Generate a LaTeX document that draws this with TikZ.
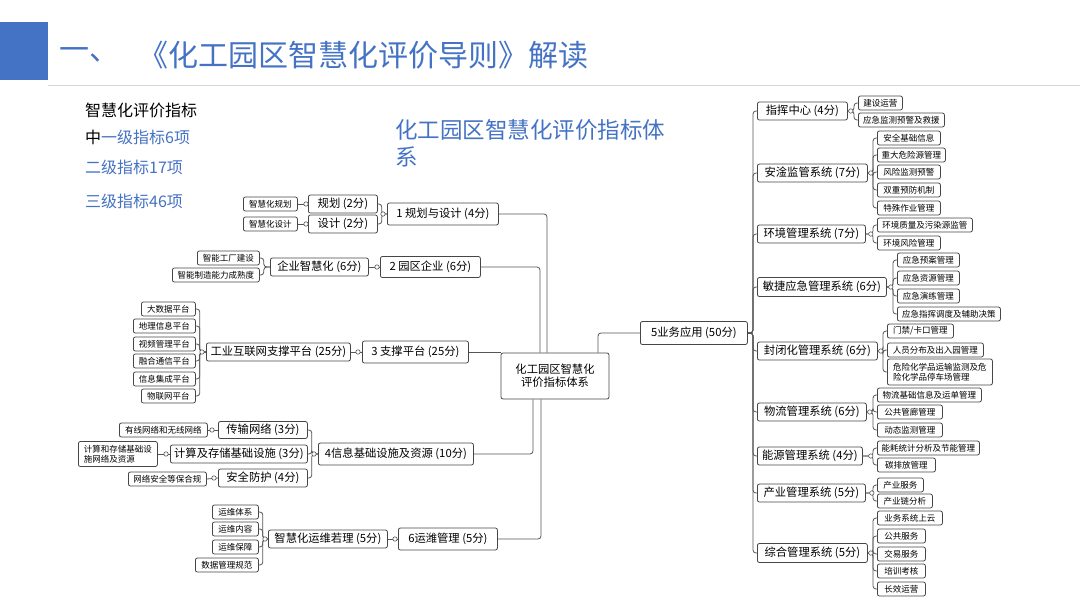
\documentclass[tikz,border=0pt]{standalone}
\usepackage{fontspec}
\setmainfont{Noto Sans CJK SC}
\usepackage{xcolor}
\definecolor{TitleBlue}{RGB}{68,114,196}
\definecolor{RuleGray}{RGB}{215,215,215}
\definecolor{EdgeGray}{RGB}{85,85,85}
\definecolor{BoxGray}{RGB}{70,70,70}

\begin{document}
\begin{tikzpicture}[x=1pt,y=1pt,yscale=-1,
	box/.style={draw=BoxGray, line width=0.8pt, rounded corners=2pt, fill=white, inner sep=1pt, anchor=west, align=center},
	mid/.style={box, font=\fontsize{11.3}{13}\selectfont},
	leaf/.style={box, font=\fontsize{8.5}{10}\selectfont, minimum height=14},
	conn/.style={draw=EdgeGray, line width=0.8pt, rounded corners=3pt},
	knob/.style={draw=EdgeGray, line width=0.6pt, fill=white}]
	\useasboundingbox (0,0) rectangle (1080,608);

	%Title bar
	\fill[TitleBlue] (0,22) rectangle (48,80);
	\draw[RuleGray, line width=1pt] (48,85) -- (1080,85);
	\node[anchor=west, inner sep=0pt, text=TitleBlue, font=\fontsize{30}{32}\selectfont] (num) at (59,55) {一、};
	\node[anchor=west, inner sep=0pt, text=TitleBlue, font=\fontsize{30}{32}\selectfont] (title) at (138,55) {《化工园区智慧化评价导则》解读};

	%Legend text
	\node[anchor=west, inner sep=0pt, font=\fontsize{16}{18}\selectfont] (lg0) at (85,110) {智慧化评价指标};
	\node[anchor=west, inner sep=0pt, font=\fontsize{16}{18}\selectfont] (lg1) at (85,137) {中\textcolor{TitleBlue}{一级指标6项}};
	\node[anchor=west, inner sep=0pt, text=TitleBlue, font=\fontsize{16}{18}\selectfont] (lg2) at (85,167) {二级指标17项};
	\node[anchor=west, inner sep=0pt, text=TitleBlue, font=\fontsize{16}{18}\selectfont] (lg3) at (85,201) {三级指标46项};
	\node[anchor=north west, inner sep=0pt, text=TitleBlue, align=left, font=\fontsize{22.5}{27}\selectfont] (head) at (395,119) {化工园区智慧化评价指标体\\系};

	%Root
	\node[mid, anchor=center, minimum width=108, minimum height=46] (root) at (555,376) {化工园区智慧化\\评价指标体系};

	%First level
	\node[mid, minimum width=111, minimum height=22] (b1) at (387,214) {1 规划与设计 (4分)};
	\node[mid, minimum width=100, minimum height=21] (b2) at (380,267) {2 园区企业 (6分)};
	\node[mid, minimum width=106, minimum height=22] (b3) at (362,352) {3 支撑平台 (25分)};
	\node[mid, minimum width=155, minimum height=22] (b4) at (318,454) {4信息基础设施及资源 (10分)};
	\node[mid, minimum width=107, minimum height=23] (b5) at (640,333) {5业务应用 (50分)};
	\node[mid, minimum width=99, minimum height=22] (b6) at (398,539) {6运潍管理 (5分)};

	%Second level, left
	\node[mid, minimum width=69, minimum height=18] (gh) at (308,204) {规划 (2分)};
	\node[mid, minimum width=69, minimum height=18] (sj) at (308,224) {设计 (2分)};
	\node[mid, minimum width=98, minimum height=18] (qy) at (270,267) {企业智慧化 (6分)};
	\node[mid, minimum width=144, minimum height=18] (gy) at (206,352) {工业互联网支撑平台 (25分)};
	\node[mid, minimum width=89, minimum height=17] (cs) at (218,430) {传输网络 (3分)};
	\node[mid, minimum width=137, minimum height=18] (js) at (170,454) {计算及存储基础设施 (3分)};
	\node[mid, minimum width=89, minimum height=18] (aq) at (218,478) {安全防护 (4分)};
	\node[mid, minimum width=119, minimum height=18] (yw) at (268,539) {智慧化运维若理 (5分)};

	%Third level, left
	\node[leaf, minimum width=54] (l11) at (243,204) {智慧化规划};
	\node[leaf, minimum width=54] (l12) at (243,224) {智慧化设计};
	\node[leaf, minimum width=62] (l21) at (197,258) {智能工厂建设};
	\node[leaf, minimum width=87] (l22) at (172,275) {智能制造能力成熟度};
	\node[leaf, minimum width=54] (l31) at (141,309) {大数据平台};
	\node[leaf, minimum width=62] (l32) at (133,326) {地理信息平台};
	\node[leaf, minimum width=62] (l33) at (133,344) {视频管理平台};
	\node[leaf, minimum width=62] (l34) at (133,361) {融合通信平台};
	\node[leaf, minimum width=62] (l35) at (133,379) {信息集成平台};
	\node[leaf, minimum width=54] (l36) at (141,396) {物联网平台};
	\node[leaf, minimum width=88] (l41) at (119,430) {有线网络和无线网络};
	\node[leaf, minimum width=79, minimum height=25, align=left] (l42) at (78,454) {计算和存储基础设\\施网络及资源};
	\node[leaf, minimum width=78] (l43) at (128,479) {网络安全等保合规};
	\node[leaf, minimum width=46] (l61) at (212,512) {运维体系};
	\node[leaf, minimum width=46] (l62) at (212,529) {运维内容};
	\node[leaf, minimum width=46] (l63) at (212,547) {运维保障};
	\node[leaf, minimum width=63] (l64) at (195,565) {数据管理规范};

	%Second level, right
	\node[mid, minimum width=90, minimum height=18] (s1) at (757,111) {指挥中心 (4分)};
	\node[mid, minimum width=110, minimum height=18] (s2) at (757,173) {安淦监管系统 (7分)};
	\node[mid, minimum width=108, minimum height=18] (s3) at (757,234) {环境管理系统 (7分)};
	\node[mid, minimum width=129, minimum height=19] (s4) at (757,287) {敏捷应急管理系统 (6分)};
	\node[mid, minimum width=120, minimum height=18] (s5) at (757,351) {封闭化管理系统 (6分)};
	\node[mid, minimum width=109, minimum height=18] (s6) at (757,412) {物流管理系统 (6分)};
	\node[mid, minimum width=105, minimum height=18] (s7) at (757,456) {能源管理系统 (4分)};
	\node[mid, minimum width=108, minimum height=18] (s8) at (757,493) {产业管理系统 (5分)};
	\node[mid, minimum width=110, minimum height=19] (s9) at (757,553) {综合管理系统 (5分)};

	%Third level, right
	\node[leaf, minimum width=44] (r11) at (858,103) {建设运营};
	\node[leaf, minimum width=86] (r12) at (858,120) {应急监测预警及救援};
	\node[leaf, minimum width=63] (r21) at (877,138) {安全基础信息};
	\node[leaf, minimum width=68] (r22) at (877,155) {重大危险源管理};
	\node[leaf, minimum width=63] (r23) at (877,172) {风险监测预警};
	\node[leaf, minimum width=63] (r24) at (877,190) {双重预防机制};
	\node[leaf, minimum width=63] (r25) at (877,208) {特殊作业管理};
	\node[leaf, minimum width=95] (r31) at (877,225) {环境质量及污染源监管};
	\node[leaf, minimum width=63] (r32) at (877,243) {环境风险管理};
	\node[leaf, minimum width=62] (r41) at (897,260) {应急预案管理};
	\node[leaf, minimum width=62] (r42) at (897,278) {应急资源管理};
	\node[leaf, minimum width=62] (r43) at (897,296) {应急演练管理};
	\node[leaf, minimum width=103] (r44) at (897,314) {应急指挥调度及辅助决策};
	\node[leaf, minimum width=66] (r51) at (887,331) {门禁/卡口管理};
	\node[leaf, minimum width=96] (r52) at (887,350) {人员分布及出入园管理};
	\node[leaf, minimum width=105, minimum height=26, align=left] (r53) at (887,372) {危险化学品运输监测及危\\险化学品停车场管理};
	\node[leaf, minimum width=104] (r61) at (877,395) {物流基础信息及运单管理};
	\node[leaf, minimum width=65] (r62) at (877,412) {公共管廊管理};
	\node[leaf, minimum width=65] (r63) at (877,430) {动态监测管理};
	\node[leaf, minimum width=102] (r71) at (877,448) {能耗统计分析及节能管理};
	\node[leaf, minimum width=58] (r72) at (877,465) {碳排放管理};
	\node[leaf, minimum width=46] (r81) at (877,485) {产业服务};
	\node[leaf, minimum width=55] (r82) at (877,501) {产业链分析};
	\node[leaf, minimum width=65] (r91) at (877,518) {业务系统上云};
	\node[leaf, minimum width=48] (r92) at (877,536) {公共服务};
	\node[leaf, minimum width=48] (r93) at (877,554) {交易服务};
	\node[leaf, minimum width=48] (r94) at (877,571) {培训考核};
	\node[leaf, minimum width=48] (r95) at (877,589) {长效运营};

	%Root to first level
	\draw[conn] (b1.east) -| ([xshift=-8]root.north);
	\draw[conn] (b2.east) -| ([xshift=-15]root.north);
	\draw[conn] (b3.east) -- (b3.east -| root.west);
	\draw[conn] (b4.east) -| ([xshift=-22]root.south);
	\draw[conn] (b6.east) -| ([xshift=-14]root.south);
	\draw[conn] ([xshift=43]root.north) |- (b5.west);

	%Left brackets
	\draw[conn] (gh.east) -- ++(4,0) |- (b1.west);
	\draw[conn] (sj.east) -- ++(4,0) |- (b1.west);
	\draw[conn] (qy.east) -- (b2.west);
	\draw[conn] (gy.east) -- (b3.west);
	\draw[conn] (cs.east) -- ++(4,0) |- (b4.west);
	\draw[conn] (js.east) -- ++(4,0) |- (b4.west);
	\draw[conn] (aq.east) -- ++(4,0) |- (b4.west);
	\draw[conn] (yw.east) -- (b6.west);
	\draw[conn] (l11.east) -- (gh.west);
	\draw[conn] (l12.east) -- (sj.west);
	\draw[conn] (l21.east) -- ++(4,0) |- (qy.west);
	\draw[conn] (l22.east) -- ++(4,0) |- (qy.west);
	\draw[conn] (l31.east) -- ++(4,0) |- (gy.west);
	\draw[conn] (l32.east) -- ++(4,0) |- (gy.west);
	\draw[conn] (l33.east) -- ++(4,0) |- (gy.west);
	\draw[conn] (l34.east) -- ++(4,0) |- (gy.west);
	\draw[conn] (l35.east) -- ++(4,0) |- (gy.west);
	\draw[conn] (l36.east) -- ++(4,0) |- (gy.west);
	\draw[conn] (l41.east) -- (cs.west);
	\draw[conn] (l42.east) -- (js.west);
	\draw[conn] (l43.east) -- (aq.west);
	\draw[conn] (l61.east) -- ++(4,0) |- (yw.west);
	\draw[conn] (l62.east) -- ++(4,0) |- (yw.west);
	\draw[conn] (l63.east) -- ++(4,0) |- (yw.west);
	\draw[conn] (l64.east) -- ++(4,0) |- (yw.west);

	%Right trunk
	\draw[conn] (s1.west) -- ++(-4,0) |- (b5.east);
	\draw[conn] (s2.west) -- ++(-4,0) |- (b5.east);
	\draw[conn] (s3.west) -- ++(-4,0) |- (b5.east);
	\draw[conn] (s4.west) -- ++(-4,0) |- (b5.east);
	\draw[conn] (s5.west) -- ++(-4,0) |- (b5.east);
	\draw[conn] (s6.west) -- ++(-4,0) |- (b5.east);
	\draw[conn] (s7.west) -- ++(-4,0) |- (b5.east);
	\draw[conn] (s8.west) -- ++(-4,0) |- (b5.east);
	\draw[conn] (s9.west) -- ++(-4,0) |- (b5.east);

	%Right brackets
	\draw[conn] (r11.west) -- ++(-4,0) |- (s1.east);
	\draw[conn] (r12.west) -- ++(-4,0) |- (s1.east);
	\draw[conn] (r21.west) -- ++(-4,0) |- (s2.east);
	\draw[conn] (r22.west) -- ++(-4,0) |- (s2.east);
	\draw[conn] (r23.west) -- ++(-4,0) |- (s2.east);
	\draw[conn] (r24.west) -- ++(-4,0) |- (s2.east);
	\draw[conn] (r25.west) -- ++(-4,0) |- (s2.east);
	\draw[conn] (r31.west) -- ++(-4,0) |- (s3.east);
	\draw[conn] (r32.west) -- ++(-4,0) |- (s3.east);
	\draw[conn] (r41.west) -- ++(-4,0) |- (s4.east);
	\draw[conn] (r42.west) -- ++(-4,0) |- (s4.east);
	\draw[conn] (r43.west) -- ++(-4,0) |- (s4.east);
	\draw[conn] (r44.west) -- ++(-4,0) |- (s4.east);
	\draw[conn] (r51.west) -- ++(-4,0) |- (s5.east);
	\draw[conn] (r52.west) -- ++(-4,0) |- (s5.east);
	\draw[conn] (r53.west) -- ++(-4,0) |- (s5.east);
	\draw[conn] (r61.west) -- ++(-4,0) |- (s6.east);
	\draw[conn] (r62.west) -- ++(-4,0) |- (s6.east);
	\draw[conn] (r63.west) -- ++(-4,0) |- (s6.east);
	\draw[conn] (r71.west) -- ++(-4,0) |- (s7.east);
	\draw[conn] (r72.west) -- ++(-4,0) |- (s7.east);
	\draw[conn] (r81.west) -- ++(-4,0) |- (s8.east);
	\draw[conn] (r82.west) -- ++(-4,0) |- (s8.east);
	\draw[conn] (r91.west) -- ++(-4,0) |- (s9.east);
	\draw[conn] (r92.west) -- ++(-4,0) |- (s9.east);
	\draw[conn] (r93.west) -- ++(-4,0) |- (s9.east);
	\draw[conn] (r94.west) -- ++(-4,0) |- (s9.east);
	\draw[conn] (r95.west) -- ++(-4,0) |- (s9.east);

	%Collapse knobs
	\draw[knob] ([xshift=-4]b1.west) circle (2.2);
	\draw[knob] ([xshift=-3]b2.west) circle (2.2);
	\draw[knob] ([xshift=-4]b3.west) circle (2.2);
	\draw[knob] ([xshift=-4]b4.west) circle (2.2);
	\draw[knob] ([xshift=-3]b6.west) circle (2.2);
	\draw[knob] ([xshift=-2]gh.west) circle (2.2);
	\draw[knob] ([xshift=-2]sj.west) circle (2.2);
	\draw[knob] ([xshift=-4]gy.west) circle (2.2);
	\draw[knob] ([xshift=-6]cs.west) circle (2.2);
	\draw[knob] ([xshift=-4]js.west) circle (2.2);
	\draw[knob] ([xshift=-4]aq.west) circle (2.2);
	\draw[knob] ([xshift=-3]yw.west) circle (2.2);
	\draw[knob] ([xshift=3]s1.east) circle (2.2);
	\draw[knob] ([xshift=3]s2.east) circle (2.2);
	\draw[knob] ([xshift=5]s3.east) circle (2.2);
	\draw[knob] ([xshift=4]s4.east) circle (2.2);
	\draw[knob] ([xshift=3]s5.east) circle (2.2);
	\draw[knob] ([xshift=3]s6.east) circle (2.2);
	\draw[knob] ([xshift=8]s7.east) circle (2.2);
	\draw[knob] ([xshift=6]s8.east) circle (2.2);
	\draw[knob] ([xshift=3]s9.east) circle (2.2);
\end{tikzpicture}
\end{document}
